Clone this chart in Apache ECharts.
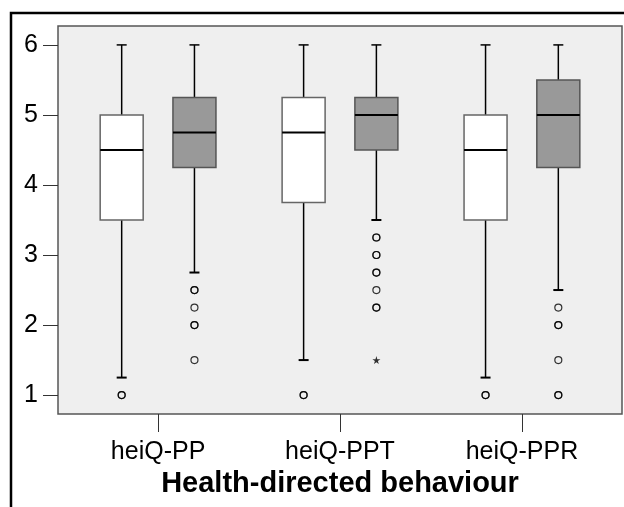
<!DOCTYPE html>
<html>
<head>
<meta charset="utf-8">
<script src="https://cdn.jsdelivr.net/npm/echarts@6/dist/echarts.min.js"></script>
<style>
  html, body { margin: 0; padding: 0; background: #fff; }
  #chart { width: 624px; height: 507px; }
</style>
</head>
<body>
<div id="chart"></div>
<script>
// Health-directed behaviour scores, two groups per heiQ scale
const categories = ['heiQ-PP', 'heiQ-PPT', 'heiQ-PPR'];
const yTicks = [1, 2, 3, 4, 5, 6];

// [lower whisker, Q1, median, Q3, upper whisker]
const whiteBoxes = [
  [1.25, 3.5, 4.5, 5.0, 6],
  [1.5, 3.75, 4.75, 5.25, 6],
  [1.25, 3.5, 4.5, 5.0, 6]
];
const greyBoxes = [
  [2.75, 4.25, 4.75, 5.25, 6],
  [3.5, 4.5, 5.0, 5.25, 6],
  [2.5, 4.25, 5.0, 5.5, 6]
];

// outlying cases (repeated values are several cases at the same score)
const whiteOutliers = [
  [1, 1],
  [1, 1],
  [1, 1]
];
const greyOutliers = [
  [2.5, 2.5, 2.25, 2.0, 2.0, 1.5],
  [3.25, 3.25, 3.0, 3.0, 2.75, 2.75, 2.5, 2.25, 2.25],
  [2.25, 2.0, 2.0, 1.5, 1.0, 1.0]
];
// extreme cases
const greyExtremes = [
  [],
  [1.5],
  []
];

const OFFSET = 0.2;   // shift of each group from its category centre
const BOX_W = 43;     // box width in px
const CAP_W = 10;     // whisker cap width in px

function boxData(boxes, shift) {
  return boxes.map((b, i) => [i + 1 + shift].concat(b));
}
function pointData(lists, shift) {
  const out = [];
  lists.forEach((vals, i) => vals.forEach(v => out.push([i + 1 + shift, v])));
  return out;
}

function makeRender(fill, stroke) {
  return function (params, api) {
    const x = api.value(0);
    const pLow = api.coord([x, api.value(1)]);
    const pQ1 = api.coord([x, api.value(2)]);
    const pMed = api.coord([x, api.value(3)]);
    const pQ3 = api.coord([x, api.value(4)]);
    const pHigh = api.coord([x, api.value(5)]);
    const cx = pLow[0];
    const black = { stroke: '#000', lineWidth: 1.5 };
    return {
      type: 'group',
      children: [
        { type: 'line', shape: { x1: cx, y1: pLow[1], x2: cx, y2: pQ1[1] }, style: black },
        { type: 'line', shape: { x1: cx, y1: pQ3[1], x2: cx, y2: pHigh[1] }, style: black },
        { type: 'line', shape: { x1: cx - CAP_W / 2, y1: pLow[1], x2: cx + CAP_W / 2, y2: pLow[1] }, style: { stroke: '#000', lineWidth: 2 } },
        { type: 'line', shape: { x1: cx - CAP_W / 2, y1: pHigh[1], x2: cx + CAP_W / 2, y2: pHigh[1] }, style: { stroke: '#000', lineWidth: 1.5 } },
        { type: 'rect', shape: { x: cx - BOX_W / 2, y: pQ3[1], width: BOX_W, height: pQ1[1] - pQ3[1] },
          style: { fill: fill, stroke: stroke, lineWidth: 1.5 } },
        { type: 'line', shape: { x1: cx - BOX_W / 2, y1: pMed[1], x2: cx + BOX_W / 2, y2: pMed[1] },
          style: { stroke: '#000', lineWidth: 2 } }
      ]
    };
  };
}

const STAR = 'path://M50,0 L61,35 L98,35 L68,57 L79,91 L50,70 L21,91 L32,57 L2,35 L39,35 Z';

const chart = echarts.init(document.getElementById('chart'), null, { renderer: 'canvas' });
chart.setOption({
  animation: false,
  backgroundColor: '#fff',
  textStyle: { fontFamily: 'Liberation Sans, Arial, sans-serif' },
  graphic: [{
    type: 'rect',
    shape: { x: 11, y: 13, width: 800, height: 700 },
    style: { fill: 'none', stroke: '#000', lineWidth: 2.5 },
    z: 0
  }],
  grid: {
    show: true,
    left: 58, top: 26, right: 2, bottom: 93,
    backgroundColor: '#efefef',
    borderColor: '#555',
    borderWidth: 1.5
  },
  xAxis: {
    type: 'value',
    min: 0.45, max: 3.55,
    axisLine: { show: false },
    splitLine: { show: false },
    axisTick: { show: true, customValues: [1, 2, 3], length: 18, lineStyle: { color: '#333', width: 1 } },
    axisLabel: {
      customValues: [1, 2, 3],
      formatter: v => categories[Math.round(v) - 1],
      fontSize: 25, color: '#000', margin: 26,
      fontFamily: 'Liberation Sans, Arial, sans-serif'
    },
    name: 'Health-directed behaviour',
    nameLocation: 'middle',
    nameGap: 55,
    nameTextStyle: { fontSize: 29, fontWeight: 'bold', color: '#000', fontFamily: 'Liberation Sans, Arial, sans-serif' }
  },
  yAxis: {
    type: 'value',
    min: 0.73, max: 6.27,
    axisLine: { show: false },
    splitLine: { show: false },
    axisTick: { show: true, customValues: yTicks, length: 15, lineStyle: { color: '#333', width: 1 } },
    axisLabel: {
      customValues: yTicks,
      fontSize: 25, color: '#000', margin: 20,
      fontFamily: 'Liberation Sans, Arial, sans-serif'
    }
  },
  series: [
    {
      type: 'custom',
      renderItem: makeRender('#ffffff', '#666'),
      data: boxData(whiteBoxes, -OFFSET),
      encode: { x: 0, y: [1, 2, 3, 4, 5] },
      z: 3
    },
    {
      type: 'custom',
      renderItem: makeRender('#999999', '#555'),
      data: boxData(greyBoxes, OFFSET),
      encode: { x: 0, y: [1, 2, 3, 4, 5] },
      z: 3
    },
    {
      type: 'scatter',
      symbol: 'circle',
      symbolSize: 7,
      itemStyle: { color: 'rgba(0,0,0,0)', borderColor: '#000', borderWidth: 1.2 },
      data: pointData(whiteOutliers, -OFFSET).concat(pointData(greyOutliers, OFFSET)),
      z: 4
    },
    {
      type: 'scatter',
      symbol: STAR,
      symbolSize: 8,
      itemStyle: { color: '#000' },
      data: pointData(greyExtremes, OFFSET),
      z: 4
    }
  ]
});
</script>
</body>
</html>
